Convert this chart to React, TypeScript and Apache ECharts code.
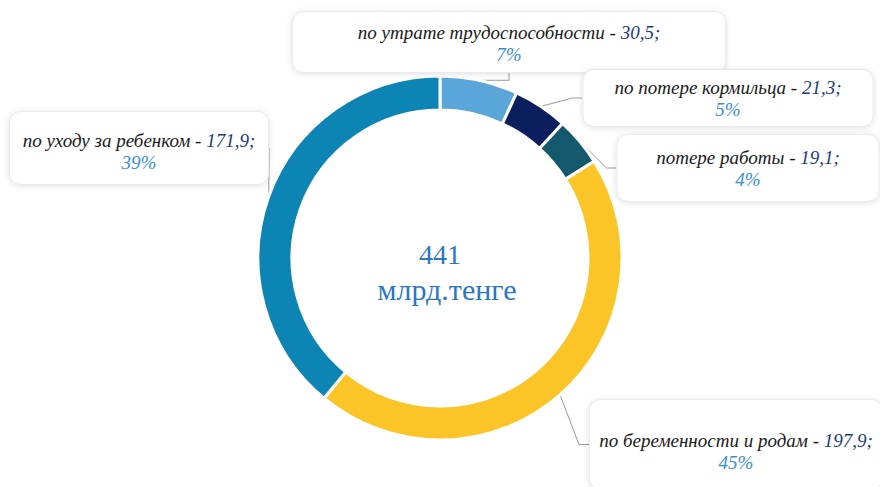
import React, { useEffect, useRef } from "react";
import * as echarts from "echarts";

const categories = [
  "по утрате трудоспособности",
  "по потере кормильца",
  "потере работы",
  "по беременности и родам",
  "по уходу за ребенком",
];
const values = [30.5, 21.3, 19.1, 197.9, 171.9];
const sliceColors = ["#5BA6D8", "#0B1F5E", "#14586E", "#FBC527", "#0C84B4"];
const totalText = "441";
const unitText = "млрд.тенге";

// label box placement (center x, top y, content width, padding)
const labelBoxes = [
  { cx: 509, top: 12, width: 432, pad: [9, 0, 7, 0] },
  { cx: 728, top: 70, width: 289, pad: [6, 0, 6, 0] },
  { cx: 748, top: 135, width: 261, pad: [11, 0, 11, 0] },
  { cx: 736, top: 400, width: 292, pad: [29, 0, 16, 0] },
  { cx: 139, top: 112, width: 258, pad: [17, 0, 11, 0] },
];

const FONT = "'Liberation Serif', 'Times New Roman', serif";

const fmt = (v: number) => v.toFixed(1).replace(".", ",");

export default function App() {
  const ref = useRef<HTMLDivElement>(null);
  useEffect(() => {
    if (!ref.current) return;
    const chart = echarts.init(ref.current, null, { renderer: "svg" });
    const data = categories.map((name, i) => ({
      name,
      value: values[i],
      itemStyle: { color: sliceColors[i] },
      label: {
        width: labelBoxes[i].width,
        padding: labelBoxes[i].pad,
      },
    }));
    chart.setOption({
      animation: false,
      backgroundColor: "#ffffff",
      graphic: [
        {
          type: "text",
          x: 440,
          y: 254,
          style: {
            text: totalText,
            align: "center",
            verticalAlign: "middle",
            fontFamily: FONT,
            fontSize: 28,
            fill: "#2B77C0",
          },
        },
        {
          type: "text",
          x: 447,
          y: 289,
          style: {
            text: unitText,
            align: "center",
            verticalAlign: "middle",
            fontFamily: FONT,
            fontSize: 30,
            fill: "#2B77C0",
          },
        },
      ],
      series: [
        {
          type: "pie",
          center: [440, 258],
          radius: [148, 182],
          startAngle: 90,
          clockwise: true,
          percentPrecision: 0,
          avoidLabelOverlap: false,
          itemStyle: { borderColor: "#ffffff", borderWidth: 3 },
          emphasis: { disabled: true },
          label: {
            show: true,
            position: "outside",
            align: "center",
            backgroundColor: "#ffffff",
            borderColor: "#ebebeb",
            borderWidth: 1,
            borderRadius: 10,
            shadowBlur: 6,
            shadowColor: "rgba(0,0,0,0.12)",
            shadowOffsetY: 1,
            formatter: (p: any) =>
              `{n|${p.name} - }{v|${fmt(p.value)};}\n{p|${p.percent}%}`,
            rich: {
              n: {
                fontFamily: FONT,
                fontStyle: "italic",
                fontSize: 19,
                color: "#1a1a1a",
                lineHeight: 22,
                align: "center",
              },
              v: {
                fontFamily: FONT,
                fontStyle: "italic",
                fontSize: 19,
                color: "#213A7A",
                lineHeight: 22,
                align: "center",
              },
              p: {
                fontFamily: FONT,
                fontStyle: "italic",
                fontSize: 19,
                color: "#3A8FD0",
                lineHeight: 22,
                align: "center",
              },
            },
          },
          labelLine: {
            show: true,
            length: 10,
            length2: 10,
            lineStyle: { color: "#9a9a9a", width: 1 },
          },
          labelLayout: (params: any) => {
            const b = labelBoxes[params.dataIndex];
            return { x: b.cx, y: b.top, align: "center", verticalAlign: "top" };
          },
          data,
        },
      ],
    });
    return () => chart.dispose();
  }, []);
  return (
    <div
      ref={ref}
      style={{ position: "absolute", left: 0, top: 0, width: 880, height: 487 }}
    />
  );
}
